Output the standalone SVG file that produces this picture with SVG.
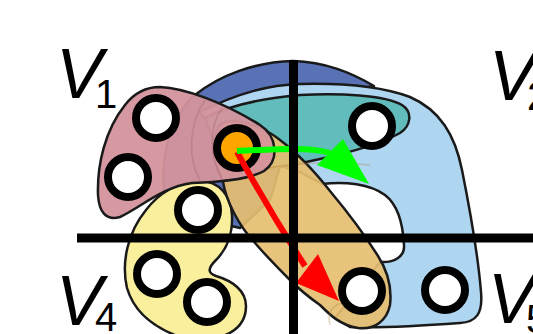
<svg xmlns="http://www.w3.org/2000/svg" width="533" height="334" viewBox="0 0 533 334">
<style>
.rg{stroke:#1a1a1a;stroke-width:2.5;stroke-linejoin:round}
.nd{fill:#fff;stroke:#000;stroke-width:8}
.ax{stroke:#000;stroke-width:9}
.lb{font-family:"Liberation Sans",Arial,sans-serif;fill:#000}
.v{font-size:70px;font-style:italic}
.s{font-size:40px}
.tx{fill:none;stroke-width:1.5;opacity:0.35}
</style>
<rect width="533" height="334" fill="#fff"/>
<g id="region-darkblue">
<path class="rg" fill="#5872b5" d="M165,200 C158,150 175,112 195,95 C220,75 255,62 293,61 C325,62 350,72 374,86 L300,100 L270,200 L240,228 L205,220 Z"/>
</g>
<g id="region-V2">
<path class="rg" fill="#aed6f1" d="M200,112 C240,92 270,85 300,84 C340,83 380,86 410,97 C440,110 455,135 462,170 C470,210 478,255 481,292 C483,314 476,322 460,323 C420,326 380,328 350,327 L335,318 L380,262 C395,263 405,256 404,245 C403,225 398,205 385,195 C370,184 345,181 322,184 L300,172 L230,150 Z"/>
</g>
<g id="region-teal">
<path class="rg" fill="#62bcbb" d="M205,118 C232,104 265,98 300,95 C340,93 385,95 402,105 C413,112 411,126 400,133 C382,143 352,152 320,159 C290,166 255,172 225,170 Z"/>
</g>
<g id="region-V4">
<path class="rg" fill="#f9ef9c" d="M199,181 C220,181 231,196 232,215 C233,235 226,250 216,260 C208,268 207,273 216,276 C233,281 246,291 246,306 C246,322 236,332 220,337 L180,337 C155,328 134,312 127,288 C121,262 128,232 146,210 C158,194 178,181 199,181 Z"/>
</g>
<g id="region-tan">
<path class="rg" fill="#e6be70" fill-opacity="0.92" d="M223,182 C226,200 238,225 255,243 C268,258 280,270 290,280 C300,290 310,298 320,305 C330,315 340,325 358,328 C375,330 387,320 390,305 C392,288 387,270 378,256 C368,240 350,215 330,191 C315,172 300,155 280,140 C265,128 240,118 225,122 C210,128 212,160 223,182 Z"/>
<path class="tx" stroke="#b08a40" d="M232,175 C270,165 320,160 370,165"/>
<path class="tx" stroke="#b08a40" d="M330,325 C325,305 340,298 380,300"/>
</g>
<g id="region-V1">
<path class="rg" fill="#d4949c" fill-opacity="0.95" d="M160,87 C185,88 225,103 260,125 C277,136 280,160 264,171 C248,180 218,182 192,183 C162,187 140,208 120,217 C106,221 99,212 98,195 C97,165 105,130 125,105 C135,92 148,87 160,87 Z"/>
<path class="tx" stroke="#a0606a" d="M205,100 C188,125 188,160 200,180"/>
<path class="tx" stroke="#a0606a" d="M222,108 C208,128 210,160 222,178"/>
</g>
<g id="n1"><circle class="nd" cx="156" cy="118" r="20"/></g>
<g id="n2"><circle class="nd" cx="128" cy="177" r="20"/></g>
<g id="n3"><circle class="nd" cx="198" cy="210" r="20"/></g>
<g id="n4"><circle class="nd" cx="237" cy="148" r="20" style="fill:#ffa500"/></g>
<g id="n5"><circle class="nd" cx="372" cy="126" r="20"/></g>
<g id="n6"><circle class="nd" cx="157" cy="274" r="20"/></g>
<g id="n7"><circle class="nd" cx="207" cy="302" r="20"/></g>
<g id="n8"><circle class="nd" cx="362" cy="291" r="20"/></g>
<g id="n9"><circle class="nd" cx="445" cy="290" r="20"/></g>
<g id="connectors">
<path d="M237,152 Q270,212 305,266" fill="none" stroke="#ff0000" stroke-width="6"/>
<polygon points="296,283 318,254 339,301" fill="#ff0000"/>
<path d="M237,151 C280,149 310,147 330,153" fill="none" stroke="#00ff00" stroke-width="6"/>
<polygon points="343,139 317,165 369,184" fill="#00ff00"/>
</g>
<g id="axes">
<line class="ax" x1="293.5" y1="60" x2="293.5" y2="334"/>
<line class="ax" x1="77" y1="238" x2="533" y2="238"/>
</g>
<g id="labels">
<text class="lb v" x="56" y="98">V</text><text class="lb s" x="95" y="108">1</text>
<text class="lb v" x="489" y="100">V</text><text class="lb s" x="527" y="110">2</text>
<text class="lb v" x="56" y="325">V</text><text class="lb s" x="95" y="331">4</text>
<text class="lb v" x="488" y="323">V</text><text class="lb s" x="526" y="333">5</text>
</g>
</svg>
